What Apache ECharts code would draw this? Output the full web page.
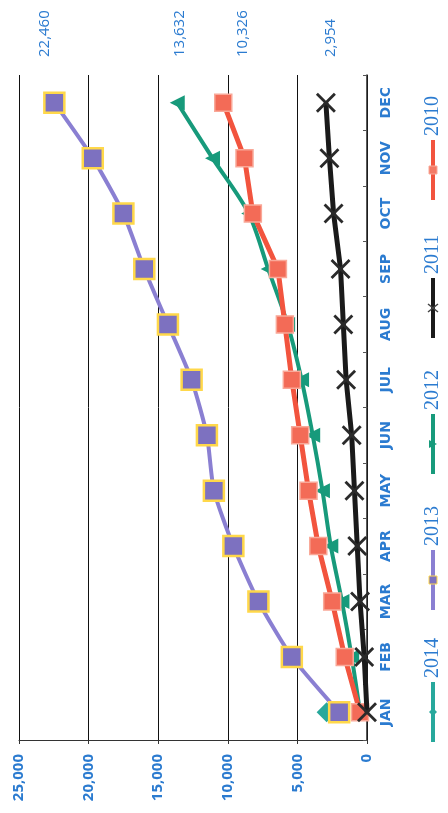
<!DOCTYPE html>
<html>
<head>
<meta charset="UTF-8">
<title>Monthly totals by year</title>
<script src="https://cdn.jsdelivr.net/npm/echarts@6/dist/echarts.min.js"></script>
<style>
  html, body { margin: 0; padding: 0; background: #fff; }
  #chart { width: 448px; height: 813px; }
</style>
</head>
<body>
<div id="chart"></div>
<script>
  // categories and values
  const months = ['JAN', 'FEB', 'MAR', 'APR', 'MAY', 'JUN', 'JUL', 'AUG', 'SEP', 'OCT', 'NOV', 'DEC'];
  const valueMax = 25000;
  const valueStep = 5000;

  const y2014 = [2900];
  const y2013 = [2000, 5400, 7800, 9600, 11000, 11500, 12600, 14300, 16000, 17500, 19700, 22460];
  const y2012 = [500, 1100, 1800, 2600, 3200, 3900, 4700, 5700, 7100, 8500, 11100, 13632];
  const y2011 = [0, 200, 500, 700, 900, 1100, 1500, 1700, 1900, 2400, 2700, 2954];
  const y2010 = [500, 1600, 2500, 3500, 4200, 4800, 5400, 5900, 6400, 8200, 8800, 10326];

  const blue = '#2b7bd0';
  const xPath = 'path://M0,2 L2,0 L10,8 L18,0 L20,2 L12,10 L20,18 L18,20 L10,12 L2,20 L0,18 L8,10 Z';

  const chart = echarts.init(document.getElementById('chart'));

  chart.setOption({
    animation: false,
    backgroundColor: '#fff',
    grid: { left: 19, right: 81, top: 75, bottom: 73 },
    xAxis: {
      type: 'value',
      inverse: true,
      position: 'bottom',
      min: 0,
      max: valueMax,
      interval: valueStep,
      axisLine: { show: true, lineStyle: { color: '#333', width: 1 } },
      axisTick: { show: true, length: 4, lineStyle: { color: '#333' } },
      splitLine: { show: true, lineStyle: { color: '#111', width: 1 } },
      axisLabel: {
        rotate: 90,
        margin: 14,
        color: blue,
        fontWeight: 'bold',
        fontSize: 15,
        fontFamily: 'Open Sans',
        formatter: v => v.toLocaleString('en-US')
      }
    },
    yAxis: {
      type: 'category',
      position: 'right',
      data: months,
      boundaryGap: true,
      axisLine: { show: true, lineStyle: { color: '#222', width: 1.5 } },
      axisTick: { show: true, inside: true, length: 4, lineStyle: { color: '#555' } },
      splitLine: { show: false },
      axisLabel: {
        rotate: 90,
        margin: 12,
        color: blue,
        fontWeight: 'bold',
        fontSize: 14,
        fontFamily: 'DejaVu Sans'
      }
    },
    series: [
      {
        name: '2014', type: 'line', data: y2014, z: 2,
        symbol: 'diamond', symbolSize: 20,
        itemStyle: { color: '#27a89c' },
        lineStyle: { color: '#27a89c', width: 4 }
      },
      {
        name: '2012', type: 'line', data: y2012, z: 3, smooth: 0.3,
        symbol: 'triangle', symbolSize: 15, symbolRotate: 90,
        itemStyle: { color: '#179a7b' },
        lineStyle: { color: '#179a7b', width: 4 }
      },
      {
        name: '2010', type: 'line', data: y2010, z: 4,
        symbol: 'rect', symbolSize: 17,
        itemStyle: { color: '#f36b57', borderColor: '#f9a898', borderWidth: 1.5 },
        lineStyle: { color: '#f2543e', width: 5 }
      },
      {
        name: '2013', type: 'line', data: y2013, z: 5, smooth: 0.2,
        symbol: 'rect', symbolSize: 20,
        itemStyle: { color: '#7d71c0', borderColor: '#ffd84a', borderWidth: 2.5 },
        lineStyle: { color: '#8a7fd2', width: 4 }
      },
      {
        name: '2011', type: 'line', data: y2011, z: 6,
        symbol: xPath, symbolSize: 20,
        itemStyle: { color: '#2a2a2a' },
        lineStyle: { color: '#1a1a1a', width: 5 }
      }
    ]
  });

  // year-end values printed above the plot
  const endSeries = [y2013, y2012, y2010, y2011];
  const endShift = [-10, 2, 19, 5];
  const graphics = [];
  endSeries.forEach((arr, i) => {
    const v = arr[arr.length - 1];
    const p = chart.convertToPixel({ xAxisIndex: 0, yAxisIndex: 0 }, [v, months.length - 1]);
    graphics.push({
      type: 'text',
      x: p[0] + endShift[i],
      y: 57,
      rotation: Math.PI / 2,
      style: {
        text: v.toLocaleString('en-US'),
        fill: blue,
        fontSize: 15,
        fontFamily: 'Open Sans',
        align: 'left', verticalAlign: 'middle',
        textAlign: 'left', textVerticalAlign: 'middle'
      }
    });
  });

  // legend, turned on its side like the rest of the chart
  const legendItems = [
    { name: '2014', color: '#27a89c', y: 742, mark: 'diamond' },
    { name: '2013', color: '#8a7fd2', y: 610, mark: 'square' },
    { name: '2012', color: '#179a7b', y: 474, mark: 'tri' },
    { name: '2011', color: '#1a1a1a', y: 338, mark: 'x' },
    { name: '2010', color: '#f2543e', y: 200, mark: 'red' }
  ];
  const lineLen = 60;
  legendItems.forEach(it => {
    const mid = lineLen / 2;
    let marker;
    if (it.mark === 'diamond') {
      marker = { type: 'polygon', shape: { points: [[mid - 4, 0], [mid, -4], [mid + 4, 0], [mid, 4]] }, style: { fill: it.color } };
    } else if (it.mark === 'square') {
      marker = { type: 'rect', shape: { x: mid - 4, y: -4, width: 8, height: 8 }, style: { fill: '#7d71c0', stroke: '#ffd84a', lineWidth: 1 } };
    } else if (it.mark === 'tri') {
      marker = { type: 'polygon', shape: { points: [[mid - 4, -4], [mid + 4, -4], [mid, 4]] }, style: { fill: it.color } };
    } else if (it.mark === 'x') {
      marker = { type: 'polyline', shape: { points: [[mid - 4, -5], [mid + 4, 5], [mid, 0], [mid - 4, 5], [mid + 4, -5]] }, style: { stroke: '#444', lineWidth: 1.5, fill: null } };
    } else {
      marker = { type: 'rect', shape: { x: mid - 4, y: -4, width: 8, height: 8 }, style: { fill: '#f37a66', stroke: '#f9a898', lineWidth: 1 } };
    }
    graphics.push({
      type: 'group',
      x: 433,
      y: it.y,
      rotation: Math.PI / 2,
      children: [
        { type: 'line', shape: { x1: 0, y1: 0, x2: lineLen, y2: 0 }, style: { stroke: it.color, lineWidth: 4 } },
        marker,
        {
          type: 'text', x: lineLen + 4, y: 0,
          style: {
            text: it.name, fill: blue, fontSize: 20, fontFamily: 'Liberation Serif',
            align: 'left', verticalAlign: 'middle',
            textAlign: 'left', textVerticalAlign: 'middle'
          }
        }
      ]
    });
  });

  chart.setOption({ graphic: { elements: graphics } });
</script>
</body>
</html>
